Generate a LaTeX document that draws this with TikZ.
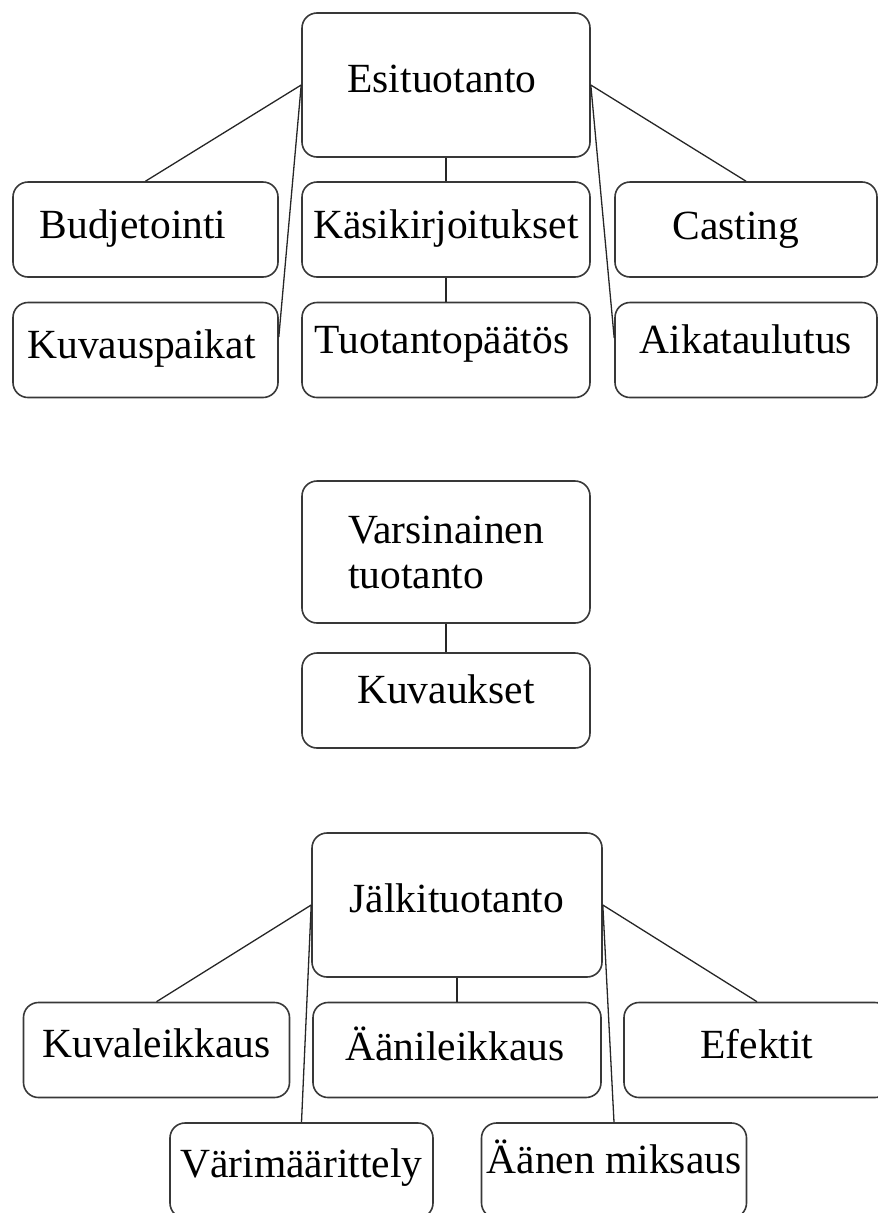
\documentclass[tikz,border=0pt]{standalone}
\usepackage{fontspec}
\setmainfont{Liberation Serif}
\begin{document}
\begin{tikzpicture}[x=1pt,y=-1pt,
  box/.style={draw=black!78, line width=1.6pt, rounded corners=15pt,
    minimum width=288pt, minimum height=95pt, inner sep=0pt,
    font=\fontsize{41.5}{45}\selectfont, text height=#1, text depth=0pt},
  box/.default=14pt,
  conn/.style={draw=black!85, line width=1.3pt}]
\useasboundingbox (0,0) rectangle (878,1213);
\clip (0,0) rectangle (878,1213);
% Esituotanto
\node[box=14pt, minimum height=144pt] (esi) at (446,85) {Esituotanto\kern8pt};
\node[box=17pt, minimum width=265pt] (bud) at (145.5,229.5) {Budjetointi\kern25pt};
\node[box=17pt] (kas) at (446,229.5) {Käsikirjoitukset};
\node[box=20pt, minimum width=262pt] (cas) at (746,229.5) {Casting\kern20pt};
\node[box=16pt, minimum width=265pt] (kuv) at (145.5,350) {Kuvauspaikat\kern8pt};
\node[box=6pt] (tuo) at (446,350) {Tuotantopäätös\kern8pt};
\node[box=6pt, minimum width=262pt] (aik) at (746,350) {Aikataulutus};
\draw[conn] (esi.west) -- (bud.north);
\draw[conn] (esi.west) -- ([yshift=13pt]kuv.east);
\draw[conn] (esi.east) -- (cas.north);
\draw[conn] (esi.east) -- ([yshift=12pt]aik.west);
\draw[conn] (esi.south) -- (kas.north);
\draw[conn] (kas.south) -- (tuo.north);
% Varsinainen tuotanto
\node[box=27pt, minimum height=142pt, align=left, text height=, text depth=] (var) at (446,552) {Varsinainen\\tuotanto};
\node[box=5pt] (kuk) at (446,700.5) {Kuvaukset};
\draw[conn] (var.south) -- (kuk.north);
% Jalkituotanto
\node[box=14pt, minimum width=290pt, minimum height=144pt] (jal) at (457,905) {Jälkituotanto};
\node[box=14pt, minimum width=266pt] (kle) at (156.5,1050) {Kuvaleikkaus};
\node[box=20pt] (ale) at (457,1050) {Äänileikkaus\kern4pt};
\node[box=16pt, minimum width=266pt] (efe) at (757,1050) {Efektit};
\node[box=13pt, minimum width=263pt] (vari) at (301.5,1170.5) {Värimäärittely};
\node[box=5pt, minimum width=265pt] (ame) at (614,1170.5) {Äänen miksaus};
\draw[conn] (jal.west) -- (kle.north);
\draw[conn] (jal.west) -- (vari.north);
\draw[conn] (jal.east) -- (efe.north);
\draw[conn] (jal.east) -- (ame.north);
\draw[conn] (jal.south) -- (ale.north);
\end{tikzpicture}
\end{document}
